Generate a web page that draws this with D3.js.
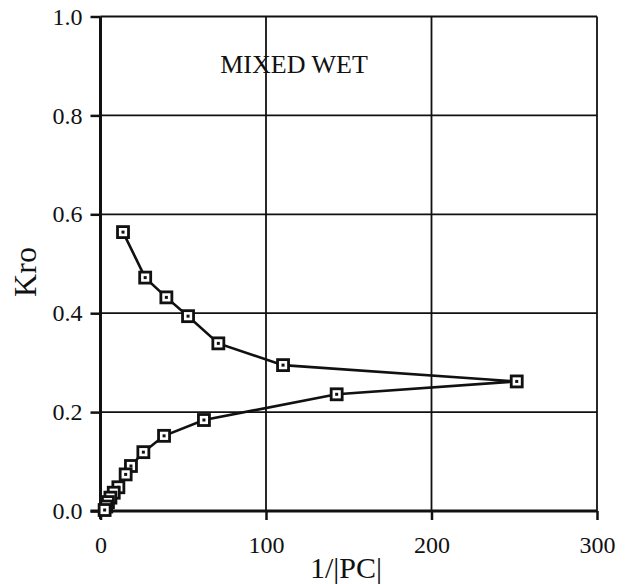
<!DOCTYPE html>
<html>
<head>
<meta charset="utf-8">
<script src="https://cdn.jsdelivr.net/npm/d3@7"></script>
<style>
  body { margin: 0; background: #fff; }
  svg text { font-family: "Liberation Serif", "DejaVu Serif", serif; fill: #111; }
</style>
</head>
<body>
<div id="chart"></div>
<script>
// values, in the order the curve is drawn
const invPc = [13.6, 27, 39.8, 52.9, 71.2, 110.3, 251.5, 142.7, 62.5, 38.4, 25.9, 18.4, 15.2, 10.8, 8, 6, 4.5, 3.5, 2.5];
const kro   = [0.564, 0.472, 0.432, 0.394, 0.339, 0.295, 0.262, 0.236, 0.184, 0.152, 0.119, 0.091, 0.074, 0.048, 0.037, 0.027, 0.018, 0.009, 0.002];
const xTicks = [0, 100, 200, 300];
const yTicks = [0.0, 0.2, 0.4, 0.6, 0.8, 1.0];

const width = 635, height = 584;
const margin = {top: 16.5, right: 38, bottom: 73, left: 100.5};

const svg = d3.select("#chart").append("svg")
    .attr("width", width)
    .attr("height", height);

const x = d3.scaleLinear().domain([0, 300]).range([margin.left, width - margin.right]);
const y = d3.scaleLinear().domain([0, 1]).range([height - margin.bottom, margin.top]);

const ink = "#111";

// grid lines (the top and right ones close the frame)
svg.append("g").selectAll("line")
    .data(xTicks.filter(d => d > 0))
    .enter().append("line")
    .attr("x1", d => x(d)).attr("x2", d => x(d))
    .attr("y1", y(1)).attr("y2", y(0))
    .attr("stroke", ink).attr("stroke-width", 1.8);

svg.append("g").selectAll("line")
    .data(yTicks.filter(d => d > 0))
    .enter().append("line")
    .attr("x1", x(0)).attr("x2", x(300))
    .attr("y1", d => y(d)).attr("y2", d => y(d))
    .attr("stroke", ink).attr("stroke-width", 1.8);

// axes
const xAxis = svg.append("g")
    .attr("transform", `translate(0,${y(0)})`)
    .call(d3.axisBottom(x).tickValues(xTicks).tickFormat(d3.format("d")).tickSize(9).tickPadding(16));
const yAxis = svg.append("g")
    .attr("transform", `translate(${x(0)},0)`)
    .call(d3.axisLeft(y).tickValues(yTicks).tickFormat(d3.format(".1f")).tickSize(10).tickPadding(8));

[xAxis, yAxis].forEach(g => {
    g.select(".domain").attr("stroke", ink).attr("stroke-width", 3);
    g.selectAll(".tick line").attr("stroke", ink).attr("stroke-width", 2.5);
    g.selectAll(".tick text").style("font-size", "24px").attr("fill", ink);
});
xAxis.select(".domain").attr("d", `M${x(0) - 10},0H${x(300)}`);
yAxis.select(".domain").attr("d", `M0,${y(1)}V${y(0) + 8}`);

// axis titles
svg.append("text")
    .attr("x", 346).attr("y", 578)
    .attr("text-anchor", "middle")
    .style("font-size", "30px")
    .text("1/|PC|");

svg.append("text")
    .attr("transform", `translate(36,272) rotate(-90)`)
    .attr("text-anchor", "middle")
    .style("font-size", "32px")
    .text("Kro");

svg.append("text")
    .attr("x", 294).attr("y", 73)
    .attr("text-anchor", "middle")
    .style("font-size", "26px")
    .text("MIXED WET");

// curve and markers
const pts = invPc.map((v, i) => ({x: v, y: kro[i]}));

svg.append("path")
    .datum(pts)
    .attr("fill", "none")
    .attr("stroke", ink)
    .attr("stroke-width", 2.6)
    .attr("d", d3.line().x(d => x(d.x)).y(d => y(d.y)));

const mk = svg.append("g").selectAll("g")
    .data(pts)
    .enter().append("g")
    .attr("transform", d => `translate(${x(d.x)},${y(d.y)})`);

mk.append("rect")
    .attr("x", -5.5).attr("y", -5.5)
    .attr("width", 11).attr("height", 11)
    .attr("fill", "#fff")
    .attr("stroke", ink)
    .attr("stroke-width", 2.8);

mk.append("rect")
    .attr("x", -1.5).attr("y", -1.5)
    .attr("width", 3).attr("height", 3)
    .attr("fill", ink);
</script>
</body>
</html>
